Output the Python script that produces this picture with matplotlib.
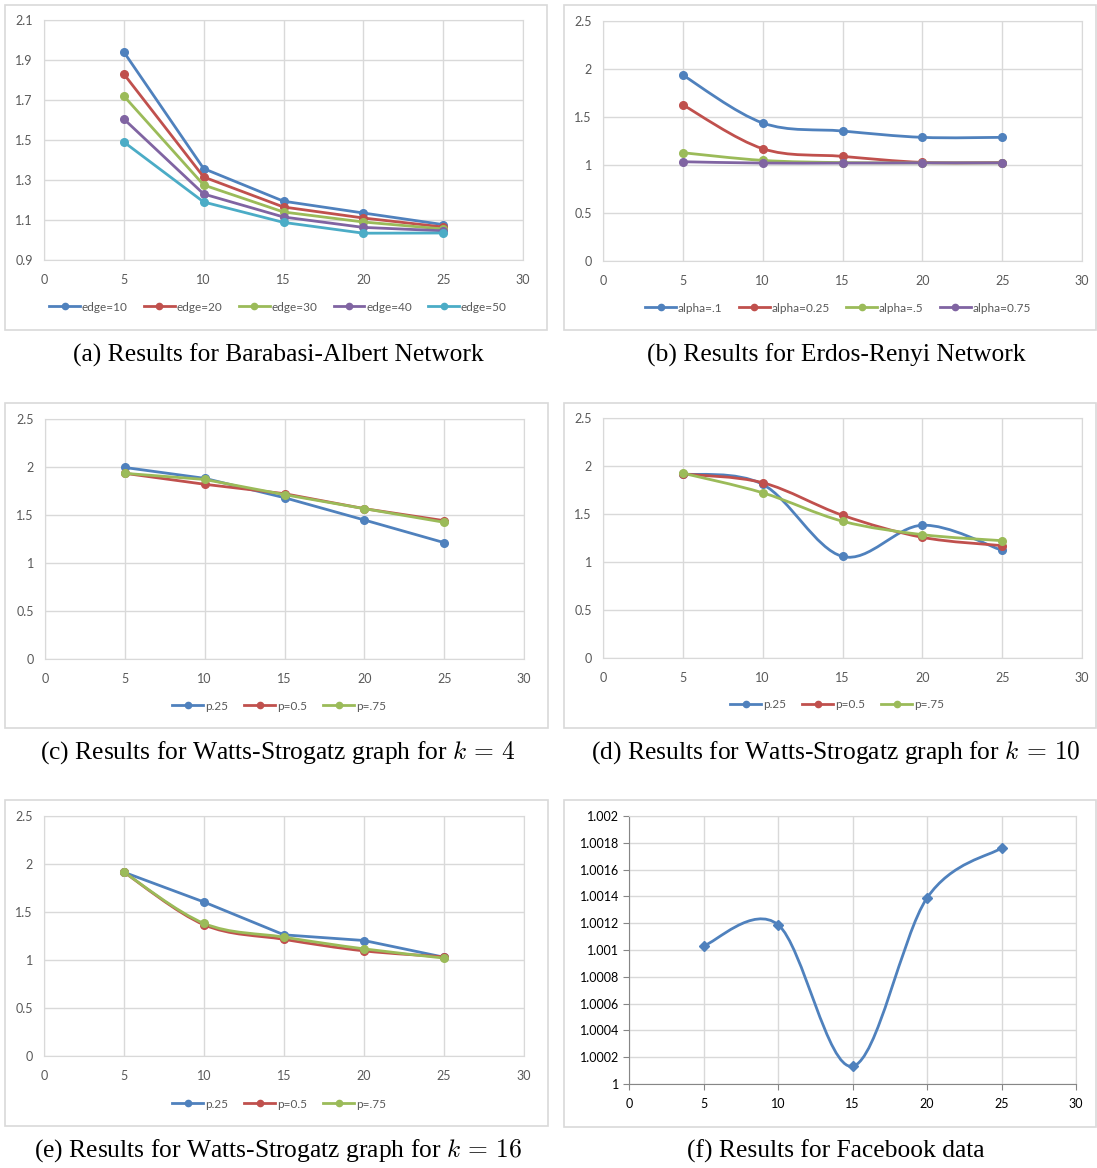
import numpy as np
import matplotlib.pyplot as plt
from matplotlib.path import Path
from matplotlib.patches import PathPatch, Rectangle
from matplotlib.ticker import MultipleLocator, FuncFormatter

plt.rcParams['font.family'] = ['Lato', 'DejaVu Sans']
plt.rcParams['mathtext.fontset'] = 'cm'

# ---- data ----
x = [5, 10, 15, 20, 25]

ba_labels = ["edge=10", "edge=20", "edge=30", "edge=40", "edge=50"]
ba_edge10 = [1.94, 1.357, 1.194, 1.135, 1.077]
ba_edge20 = [1.83, 1.315, 1.165, 1.11, 1.065]
ba_edge30 = [1.72, 1.275, 1.14, 1.09, 1.055]
ba_edge40 = [1.605, 1.23, 1.115, 1.063, 1.046]
ba_edge50 = [1.49, 1.19, 1.088, 1.034, 1.035]

er_labels = ["alpha=.1", "alpha=0.25", "alpha=.5", "alpha=0.75"]
er_a01 = [1.936, 1.438, 1.354, 1.288, 1.288]
er_a025 = [1.626, 1.17, 1.09, 1.027, 1.025]
er_a05 = [1.128, 1.048, 1.025, 1.022, 1.022]
er_a075 = [1.034, 1.02, 1.02, 1.022, 1.022]

ws_labels = ["p.25", "p=0.5", "p=.75"]
ws4_p25 = [1.995, 1.882, 1.68, 1.448, 1.212]
ws4_p50 = [1.934, 1.82, 1.722, 1.566, 1.441]
ws4_p75 = [1.934, 1.87, 1.712, 1.566, 1.424]

ws10_p25 = [1.917, 1.809, 1.058, 1.383, 1.121]
ws10_p50 = [1.917, 1.826, 1.487, 1.257, 1.17]
ws10_p75 = [1.925, 1.721, 1.425, 1.285, 1.222]

ws16_p25 = [1.914, 1.604, 1.262, 1.203, 1.029]
ws16_p50 = [1.914, 1.367, 1.215, 1.095, 1.033]
ws16_p75 = [1.914, 1.381, 1.238, 1.116, 1.02]

fb_vals = [1.00103, 1.001189, 1.000132, 1.001388, 1.001761]

captions = [
    "(a) Results for Barabasi-Albert Network",
    "(b) Results for Erdos-Renyi Network",
    "(c) Results for Watts-Strogatz graph for $k\\,=\\,4$",
    "(d) Results for Watts-Strogatz graph for $k\\,=\\,10$",
    "(e) Results for Watts-Strogatz graph for $k\\,=\\,16$",
    "(f) Results for Facebook data",
]

colors = ["#4F81BD", "#C0504D", "#9BBB59", "#8064A2", "#4BACC6"]
GRID = "#D9D9D9"
TXT = "#595959"

W, H = 1097, 1168
fig = plt.figure(figsize=(W / 100, H / 100), dpi=100)


def px_axes(x0, y0, x1, y1):
    return fig.add_axes([x0 / W, 1 - y1 / H, (x1 - x0) / W, (y1 - y0) / H])


def box(x0, y0, x1, y1):
    fig.patches.append(Rectangle((x0 / W, 1 - y1 / H), (x1 - x0) / W, (y1 - y0) / H,
                                 transform=fig.transFigure, fill=False,
                                 edgecolor=GRID, linewidth=1.2))


def smooth_path(xs, ys):
    # Excel-like smoothed line: cubic bezier through points (catmull-rom control points)
    pts = np.column_stack([xs, ys]).astype(float)
    verts = [pts[0]]
    codes = [Path.MOVETO]
    n = len(pts)
    for i in range(n - 1):
        p0 = pts[max(i - 1, 0)]
        p1 = pts[i]
        p2 = pts[i + 1]
        p3 = pts[min(i + 2, n - 1)]
        verts += [p1 + (p2 - p0) / 6, p2 - (p3 - p1) / 6, p2]
        codes += [Path.CURVE4] * 3
    return Path(verts, codes)


LW = 2.0


def draw_series(ax, ys, color, label, smooth=False, marker="o", ms=5.5):
    if smooth:
        ax.add_patch(PathPatch(smooth_path(x, ys), fill=False, edgecolor=color,
                               linewidth=LW, zorder=3, capstyle='round'))
        ax.plot(x, ys, linestyle="none", marker=marker, ms=ms, color=color, zorder=4)
        ax.plot([], [], color=color, lw=LW, marker=marker, ms=ms, label=label)
    else:
        ax.plot(x, ys, color=color, lw=LW, marker=marker, ms=ms, label=label, zorder=3)


def style(ax, ymin, ymax, ystep, yoff=0.0):
    ax.set_xlim(0, 30)
    ax.set_ylim(ymin, ymax)
    ax.xaxis.set_major_locator(MultipleLocator(5))
    ax.yaxis.set_major_locator(MultipleLocator(ystep, offset=yoff))
    ax.yaxis.set_major_formatter(FuncFormatter(lambda v, p: f"{round(v, 6):g}"))
    ax.grid(True, color=GRID, linewidth=1)
    ax.set_axisbelow(True)
    for s in ax.spines.values():
        s.set_color(GRID)
    ax.tick_params(length=0, labelsize=9, colors=TXT, pad=8)
    ax.tick_params(axis='x', pad=10)


def legend(ax, cx, cy, ncol):
    leg = ax.legend(loc="center", bbox_to_anchor=(cx / W, 1 - cy / H),
                    bbox_transform=fig.transFigure, ncol=ncol, frameon=False,
                    fontsize=8.5, handlelength=2.6, handletextpad=0.15,
                    columnspacing=1.4, numpoints=1)
    for t in leg.get_texts():
        t.set_color(TXT)
    for ln in leg.get_lines():
        ln.set_markersize(4.5)


# (a) Barabasi-Albert
box(5, 5, 547, 330)
ax = px_axes(44, 20, 523, 260)
for ys, c, lab in zip([ba_edge10, ba_edge20, ba_edge30, ba_edge40, ba_edge50], colors, ba_labels):
    draw_series(ax, ys, c, lab)
style(ax, 0.9, 2.1, 0.2, yoff=0.1)
legend(ax, 278, 307, 5)

# (b) Erdos-Renyi
box(564, 5, 1096, 330)
ax = px_axes(603, 21, 1082, 261)
for ys, c, lab in zip([er_a01, er_a025, er_a05, er_a075], colors, er_labels):
    draw_series(ax, ys, c, lab, smooth=True)
style(ax, 0, 2.5, 0.5)
legend(ax, 838, 308, 4)

# (c) Watts-Strogatz k=4
box(5, 403, 548, 728)
ax = px_axes(45, 419, 524, 659)
for ys, c, lab in zip([ws4_p25, ws4_p50, ws4_p75], colors, ws_labels):
    draw_series(ax, ys, c, lab)
style(ax, 0, 2.5, 0.5)
legend(ax, 279, 706, 3)

# (d) Watts-Strogatz k=10
box(564, 403, 1096, 728)
ax = px_axes(603, 418, 1082, 658)
for ys, c, lab in zip([ws10_p25, ws10_p50, ws10_p75], colors, ws_labels):
    draw_series(ax, ys, c, lab, smooth=True)
style(ax, 0, 2.5, 0.5)
legend(ax, 837, 705, 3)

# (e) Watts-Strogatz k=16
box(5, 800, 548, 1126)
ax = px_axes(44, 816, 524, 1056)
draw_series(ax, ws16_p25, colors[0], ws_labels[0])
draw_series(ax, ws16_p50, colors[1], ws_labels[1], smooth=True)
draw_series(ax, ws16_p75, colors[2], ws_labels[2], smooth=True)
style(ax, 0, 2.5, 0.5)
legend(ax, 279, 1104, 3)

# (f) Facebook data
box(564, 800, 1096, 1127)
ax = px_axes(629, 816, 1076, 1084)
draw_series(ax, fb_vals, colors[0], "fb", smooth=True, marker="D", ms=5.5)
style(ax, 1.0, 1.002, 0.0002)
ax.spines['left'].set_color("#868686")
ax.spines['bottom'].set_color("#868686")
ax.tick_params(length=4, direction='out', color="#868686", labelcolor="black", pad=3)
ax.tick_params(axis='x', pad=6)

# captions
cap_pos = [(278, 355), (836, 355), (278, 753), (836, 753), (278, 1151), (836, 1151)]
for (cx, cy), cap in zip(cap_pos, captions):
    fig.text(cx / W, 1 - cy / H, cap, ha="center", va="center",
             family="Liberation Serif", fontsize=18.4)

plt.savefig("out.png", dpi=100)
